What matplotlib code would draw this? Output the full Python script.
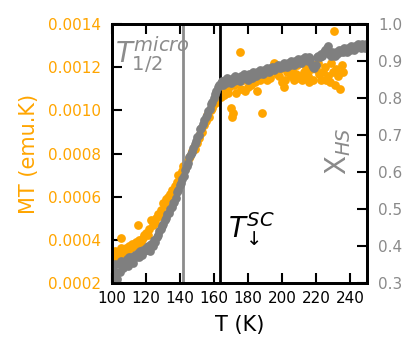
import numpy as np
import matplotlib
matplotlib.use('Agg')
import matplotlib.pyplot as plt

plt.rcParams['mathtext.fontset'] = 'custom'
plt.rcParams['mathtext.rm'] = 'DejaVu Sans'
plt.rcParams['mathtext.it'] = 'DejaVu Sans:italic'
plt.rcParams['mathtext.bf'] = 'DejaVu Sans:bold'

# MT (orange) data, left axis
T_mt = [100, 101, 102, 103, 104, 105, 105.5, 106, 107, 108, 109, 110, 111, 112, 113,
        114, 115, 115.5, 116, 117, 118, 119, 120, 121, 122, 123, 124, 125, 126, 127,
        128, 129, 130, 131, 132, 133, 134, 135, 136, 137, 138, 139, 140, 141, 142,
        143, 144, 145, 146, 147, 148, 149, 150, 151, 152, 153, 154, 155, 156, 157,
        158, 159, 160, 161, 162, 163, 164, 165, 166, 167, 168, 169, 170, 170.5, 171,
        172, 173, 174, 175, 176, 177, 178, 179, 180, 181, 182, 183, 184, 185, 186,
        187, 188, 189, 190, 191, 192, 193, 194, 195, 196, 197, 198, 199, 200, 201,
        202, 203, 204, 205, 206, 207, 208, 209, 210, 211, 212, 213, 214, 215, 216,
        217, 218, 219, 220, 221, 222, 223, 224, 225, 226, 227, 228, 229, 230, 230.5,
        231, 232, 233, 234, 235, 236]
MT = [0.00033, 0.00031, 0.00035, 0.00032, 0.00034, 0.00036, 0.00041, 0.00033, 0.00035,
      0.00036, 0.00034, 0.00037, 0.00036, 0.00038, 0.00037, 0.00039, 0.00038, 0.00047,
      0.00040, 0.00039, 0.00041, 0.00042, 0.00043, 0.00042, 0.00045, 0.00049, 0.00047,
      0.00048, 0.00050, 0.00052, 0.00051, 0.00054, 0.00057, 0.00056, 0.00059, 0.00060,
      0.00061, 0.00063, 0.00062, 0.00065, 0.00067, 0.00070, 0.00069, 0.00072, 0.00074,
      0.00073, 0.00076, 0.00078, 0.00079, 0.00081, 0.00083, 0.00082, 0.00085, 0.00087,
      0.00089, 0.00090, 0.00093, 0.00095, 0.00098, 0.00097, 0.00100, 0.00101, 0.00103,
      0.00106, 0.00104, 0.00108, 0.00106, 0.00110, 0.00107, 0.00112, 0.00108, 0.00111,
      0.00101, 0.00097, 0.00099, 0.00112, 0.00108, 0.00113, 0.00127, 0.00110, 0.00114,
      0.00109, 0.00115, 0.00111, 0.00116, 0.00112, 0.00117, 0.00113, 0.00109, 0.00116,
      0.00114, 0.00099, 0.00115, 0.00117, 0.00114, 0.00118, 0.00115, 0.00119, 0.00122,
      0.00121, 0.00117, 0.00116, 0.00119, 0.00113, 0.00111, 0.00114, 0.00118, 0.00120,
      0.00116, 0.00119, 0.00114, 0.00117, 0.00121, 0.00115, 0.00116, 0.00114, 0.00118,
      0.00120, 0.00116, 0.00113, 0.00119, 0.00114, 0.00121, 0.00119, 0.00122, 0.00117,
      0.00114, 0.00118, 0.00120, 0.00114, 0.00116, 0.00113, 0.00122, 0.00118, 0.00137,
      0.00112, 0.00119, 0.00116, 0.00110, 0.00121, 0.00118]

# X_HS (gray) data, right axis
T_hs = [100.0, 100.8, 101.5, 102.3, 103.0, 103.8, 104.6, 105.4, 106.2, 107.0, 107.8,
        108.6, 109.4, 110.2, 111.0, 111.8, 112.6, 113.4, 114.2, 115.0, 115.8, 116.6,
        117.4, 118.2, 119.0, 119.8, 120.6, 121.4, 122.2, 123.0, 123.8, 124.6, 125.4,
        126.2, 127.0, 127.8, 128.6, 129.4, 130.2, 131.0, 131.8, 132.6, 133.4, 134.2,
        135.0, 135.8, 136.6, 137.4, 138.2, 139.0, 139.8, 140.6, 141.4, 142.2, 143.0,
        143.8, 144.6, 145.4, 146.2, 147.0, 147.8, 148.6, 149.4, 150.2, 151.0, 151.8,
        152.6, 153.4, 154.2, 155.0, 155.8, 156.6, 157.4, 158.2, 159.0, 159.8, 160.6,
        161.4, 162.2, 163.0, 163.8, 164.6, 165.4, 166.2, 167.0, 167.8, 168.6, 169.4,
        170.2, 171.0, 171.8, 172.6, 173.4, 174.2, 175.0, 175.8, 176.6, 177.4, 178.2,
        179.0, 179.8, 180.6, 181.4, 182.2, 183.0, 183.8, 184.6, 185.4, 186.2, 187.0,
        187.8, 188.6, 189.4, 190.2, 191.0, 191.8, 192.6, 193.4, 194.2, 195.0, 195.8,
        196.6, 197.4, 198.2, 199.0, 199.8, 200.6, 201.4, 202.2, 203.0, 203.8, 204.6,
        205.4, 206.2, 207.0, 207.8, 208.6, 209.4, 210.2, 211.0, 211.8, 212.6, 213.4,
        214.2, 215.0, 215.8, 216.6, 217.4, 218.2, 219.0, 219.8, 220.6, 221.4, 222.2,
        223.0, 223.8, 224.6, 225.4, 226.2, 227.0, 227.8, 228.6, 229.4, 230.2, 231.0,
        231.8, 232.6, 233.4, 234.2, 235.0, 235.8, 236.6, 237.4, 238.2, 239.0, 239.8,
        240.6, 241.4, 242.2, 243.0, 243.8, 244.6, 245.4, 246.2, 247.0, 247.8, 248.6,
        249.4]
X_HS = [0.34, 0.32, 0.35, 0.33, 0.31, 0.35, 0.33, 0.36, 0.34, 0.355, 0.35,
        0.365, 0.345, 0.37, 0.36, 0.37, 0.355, 0.375, 0.37, 0.38, 0.37, 0.385,
        0.375, 0.39, 0.385, 0.395, 0.39, 0.40, 0.385, 0.405, 0.40, 0.415, 0.41,
        0.425, 0.43, 0.44, 0.445, 0.455, 0.46, 0.47, 0.475, 0.485, 0.49, 0.50,
        0.505, 0.515, 0.52, 0.53, 0.545, 0.55, 0.565, 0.57, 0.58, 0.59, 0.605,
        0.615, 0.625, 0.64, 0.65, 0.655, 0.665, 0.675, 0.685, 0.695, 0.70, 0.715,
        0.72, 0.73, 0.74, 0.75, 0.755, 0.765, 0.77, 0.785, 0.79, 0.80, 0.81,
        0.82, 0.83, 0.835, 0.84, 0.845, 0.835, 0.85, 0.84, 0.855, 0.845, 0.85,
        0.84, 0.855, 0.845, 0.86, 0.85, 0.855, 0.845, 0.86, 0.855, 0.865, 0.855,
        0.86, 0.85, 0.865, 0.86, 0.855, 0.87, 0.865, 0.86, 0.87, 0.865, 0.875,
        0.87, 0.865, 0.875, 0.87, 0.88, 0.875, 0.87, 0.88, 0.885, 0.875, 0.885,
        0.88, 0.89, 0.885, 0.88, 0.89, 0.885, 0.895, 0.89, 0.885, 0.895, 0.89,
        0.90, 0.895, 0.89, 0.90, 0.895, 0.905, 0.90, 0.895, 0.905, 0.90, 0.91,
        0.905, 0.90, 0.91, 0.905, 0.89, 0.885, 0.88, 0.89, 0.91, 0.915, 0.91,
        0.92, 0.915, 0.925, 0.93, 0.935, 0.94, 0.92, 0.915, 0.925, 0.92, 0.915,
        0.925, 0.92, 0.93, 0.925, 0.93, 0.925, 0.935, 0.93, 0.925, 0.935, 0.93,
        0.94, 0.935, 0.93, 0.94, 0.935, 0.945, 0.94, 0.935, 0.945, 0.94, 0.935,
        0.945]

T_micro = 142.0
T_sc = 163.5

orange = '#FFA500'
grey = '#7F7F7F'
light_grey = '#8C8C8C'

fig = plt.figure(figsize=(4.06, 3.4), dpi=100)
ax = fig.add_axes([0.276, 0.168, 0.628, 0.761])
ax2 = ax.twinx()

ax.plot(T_mt, MT, 'o', color=orange, ms=6.3, mec='none')
ax.axvline(T_micro, color=light_grey, lw=2)
ax.axvline(T_sc, color='black', lw=2)
ax2.plot(T_hs, X_HS, 'o', color=grey, ms=6.3, mec='none')

ax.set_xlim(100, 250)
ax.set_ylim(0.0002, 0.0014)
ax2.set_ylim(0.3, 1.0)
ax.set_xticks([100, 120, 140, 160, 180, 200, 220, 240])
ax.set_yticks([0.0002, 0.0004, 0.0006, 0.0008, 0.0010, 0.0012, 0.0014])
ax.set_yticklabels(['%.4f' % v for v in ax.get_yticks()])
ax2.set_yticks([0.3, 0.4, 0.5, 0.6, 0.7, 0.8, 0.9, 1.0])
ax2.set_yticklabels(['%.1f' % v for v in ax2.get_yticks()])

ax.tick_params(axis='x', direction='in', top=True, length=7, width=1.5,
               labelsize=11, pad=6)
ax.tick_params(axis='y', direction='in', length=7, width=1.5, labelsize=11,
               labelcolor=orange, pad=8)
ax2.tick_params(axis='y', direction='in', length=7, width=1.5, labelsize=11,
                labelcolor='#8A8A8A', pad=8)
for a in (ax, ax2):
    for s in a.spines.values():
        s.set_linewidth(2)

ax.set_xlabel('T (K)', fontsize=15, labelpad=6)
ax.set_ylabel('MT (emu.K)', fontsize=15, color=orange, labelpad=6)

ax.text(0.012, 0.85, r'$T_{\mathit{1/2}}^{micro}$', transform=ax.transAxes,
        fontsize=20, color=light_grey, va='baseline', ha='left')
ax.text(0.455, 0.174, r'$T_{\!\downarrow}^{SC}$', transform=ax.transAxes,
        fontsize=20, color='black', va='baseline', ha='left')
ax2.text(0.886, 0.51, r'X$_{HS}$', transform=ax.transAxes, rotation=90,
         fontsize=20, color='#8A8A8A', va='center', ha='center')

plt.savefig('out.png', dpi=100)
